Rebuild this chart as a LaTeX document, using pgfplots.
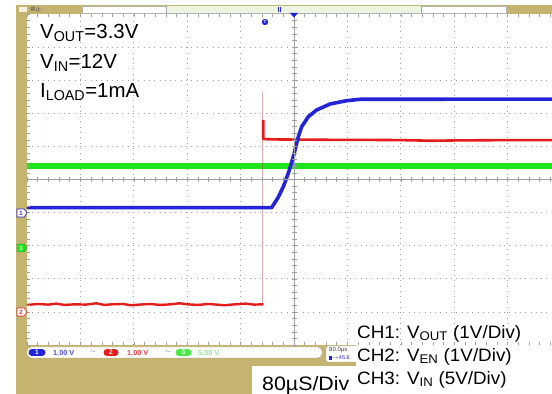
\documentclass[border=0pt]{standalone}
\usepackage{pgfplots}
\pgfplotsset{compat=1.18}
\usepackage{fontspec}
\setmainfont{Liberation Sans}
\newfontfamily\cjk{Noto Sans CJK SC}

\definecolor{bezel}{RGB}{197,180,112}
\definecolor{tblue}{RGB}{35,35,215}
\definecolor{tred}{RGB}{228,28,28}
\definecolor{tgreen}{RGB}{30,228,30}
\definecolor{gridc}{RGB}{160,160,160}
\definecolor{barbg}{RGB}{236,244,226}

% traces, in screen divisions (x: time, y: volts/div)
\pgfplotstableread{
x y
-5.2 -0.85
-0.418 -0.85
-0.30 -0.55
-0.200 -0.218
-0.107 0.187
-0.013 0.689
0.081 1.293
0.144 1.595
0.268 1.897
0.425 2.100
0.674 2.281
0.987 2.381
1.236 2.423
5.2 2.43
}\chone
\pgfplotstableread{
x y
-5.2 -3.77
-5.0 -3.79
-4.8 -3.76
-4.6 -3.78
-4.45 -3.75
-4.3 -3.79
-4.1 -3.77
-3.9 -3.78
-3.7 -3.74
-3.55 -3.79
-3.4 -3.77
-3.2 -3.76
-3.05 -3.80
-2.9 -3.78
-2.7 -3.76
-2.5 -3.79
-2.3 -3.77
-2.15 -3.74
-2.0 -3.77
-1.8 -3.79
-1.6 -3.76
-1.45 -3.78
-1.3 -3.80
-1.1 -3.77
-0.9 -3.75
-0.75 -3.78
-0.575 -3.77
}\chtwolow
\pgfplotstableread{
x y
-0.575 1.80
-0.575 1.22
-0.3 1.21
0.5 1.20
1.5 1.195
2.0 1.19
2.6 1.17
3.0 1.18
4.0 1.19
5.2 1.19
}\chtwohigh
\pgfplotstableread{
x y
-5.2 0.41
5.2 0.41
}\chthree

\begin{document}
\begin{tikzpicture}
\useasboundingbox (0,0) rectangle (552bp,394bp);
\clip (0,0) rectangle (552bp,394bp);
\begin{scope}[x=1bp,y=1bp]
\fill[white] (0,0) rectangle (552,394);
% instrument bezel
\fill[bezel] (16,0) rectangle (552,389);
% top status strip
\fill[white,draw=gray!60,line width=0.4] (82,381) rectangle (506,388);
\fill[barbg] (166,381.3) rectangle (421,387.7);
\draw[gray!70,line width=0.6] (166,381) -- (166,388);
\draw[gray!70,line width=0.6] (421,381) -- (421,388);
\node[anchor=west,inner sep=0,font=\cjk\fontsize{5.5}{6}\selectfont,text=black!70] at (30,384.5) {停止};
\fill[white!80!bezel] (19,382) rectangle (27,387);
% screen
\fill[white] (27,49) rectangle (561,380);
\end{scope}

\begin{axis}[at={(27bp,49bp)},anchor=south west,
  width=534bp,height=331bp,scale only axis,
  xmin=-5,xmax=5,ymin=-5,ymax=5,
  axis line style={draw=none},
  xtick={-4,...,4},ytick={-4,...,4},
  xticklabels={},yticklabels={},
  major tick length=0pt,
  grid=major,
  grid style={gridc,line width=0.8,dash pattern=on 0.9bp off 4.4bp},
  clip=true]
\addplot[tgreen,line width=6.6bp] table {\chthree};
\addplot[tred!60!gray,line width=0.6bp,opacity=0.45] coordinates {(-0.59,-3.77) (-0.59,2.65)};
\addplot[tred,line width=2.4bp,line join=round] table {\chtwolow};
\addplot[tred,line width=2.6bp,line join=round] table {\chtwohigh};
\addplot[tblue,line width=3.6bp,line join=round] table {\chone};
\end{axis}

\begin{scope}[x=1bp,y=1bp]
% centre graticule with minor ticks
\draw[gray!75,line width=0.5] (27,214.5) -- (561,214.5);
\draw[gray!75,line width=0.5] (294,49) -- (294,380);
\foreach \i in {-25,...,25}{
  \draw[gray!75,line width=0.5] ({294+10.68*\i},212) -- ({294+10.68*\i},217);
  \draw[gray!75,line width=0.5] ({294+10.68*\i},380) -- ({294+10.68*\i},377);
  \draw[gray!75,line width=0.5] ({294+10.68*\i},49) -- ({294+10.68*\i},52);
}
\foreach \i in {-25,...,25}{
  \draw[gray!75,line width=0.5] (291.5,{214.5+6.62*\i}) -- (296.5,{214.5+6.62*\i});
  \draw[gray!75,line width=0.5] (27,{214.5+6.62*\i}) -- (30,{214.5+6.62*\i});
}

% trigger position and level markers
\fill[tblue] (290,381) -- (298,381) -- (294,376.5) -- cycle;
\draw[tblue,line width=0.8] (278,382) -- (278,387) (280.5,382) -- (280.5,387);
\fill[tblue] (265,372) circle (3.2);
\node[text=white,font=\bfseries\fontsize{4.5}{5}\selectfont,inner sep=0] at (265,372) {T};

% channel ground markers
\filldraw[fill=white,draw=tblue,line width=0.6] (17,185) -- (24,185) -- (27,181) -- (24,177) -- (17,177) -- cycle;
\node[text=tblue,font=\bfseries\fontsize{6}{6}\selectfont,inner sep=0] at (21,181) {1};
\filldraw[fill=tgreen,draw=tgreen!70!black,line width=0.4] (17,150) -- (24,150) -- (27,146) -- (24,142) -- (17,142) -- cycle;
\node[text=white,font=\bfseries\fontsize{6}{6}\selectfont,inner sep=0] at (21,146) {3};
\filldraw[fill=white,draw=tred,line width=0.6] (17,86) -- (24,86) -- (27,82) -- (24,78) -- (17,78) -- cycle;
\node[text=tred,font=\bfseries\fontsize{6}{6}\selectfont,inner sep=0] at (21,82) {2};

% bottom channel status bar
\filldraw[fill=white,draw=gray!70,line width=0.5,rounded corners=4] (27,36) rectangle (322,47);
\fill[tblue] (32,38) rectangle (42,45);
\fill[tblue] (32,41.5) circle (3.5) (42,41.5) circle (3.5);
\node[text=white,font=\bfseries\fontsize{6.5}{7}\selectfont,inner sep=0] at (37,41.5) {1};
\node[anchor=west,text=tblue!80,font=\bfseries\fontsize{7.3}{8}\selectfont,inner sep=0] at (53,41.5) {1.00 V};
\node[text=tblue!70,font=\fontsize{7}{7}\selectfont,inner sep=0] at (93,41.5) {$\sim$};
\fill[tred] (107,38) rectangle (115,45);
\fill[tred] (107,41.5) circle (3.5) (115,41.5) circle (3.5);
\node[text=white,font=\bfseries\fontsize{6.5}{7}\selectfont,inner sep=0] at (111,41.5) {2};
\node[anchor=west,text=tred!85,font=\bfseries\fontsize{7.3}{8}\selectfont,inner sep=0] at (127,41.5) {1.00 V};
\node[text=tblue!70,font=\fontsize{7}{7}\selectfont,inner sep=0] at (168,41.5) {$\sim$};
\fill[tgreen!80] (179,38) rectangle (188,45);
\fill[tgreen!80] (179,41.5) circle (3.5) (188,41.5) circle (3.5);
\node[text=white,font=\bfseries\fontsize{6.5}{7}\selectfont,inner sep=0] at (183.5,41.5) {3};
\node[anchor=west,text=tgreen!55,font=\bfseries\fontsize{7.3}{8}\selectfont,inner sep=0] at (198,41.5) {5.00 V};

% timebase readout
\filldraw[fill=white,draw=gray!70,line width=0.5,rounded corners=2] (326,32) rectangle (360,48);
\node[anchor=west,text=black!75,font=\fontsize{6}{6}\selectfont,inner sep=0] at (329,43.5) {80.0µs};
\node[anchor=west,text=tblue,font=\fontsize{5.5}{6}\selectfont,inner sep=0] at (329,36) {\rule{3bp}{4bp}$\to$45.6};

% annotation panels
\fill[white] (252,0) rectangle (552,28);
\fill[white] (356,0) rectangle (552,49);

\node[anchor=base west,inner sep=0,font=\fontsize{20.5}{24}\selectfont] at (40,356) {V\textsubscript{OUT}=3.3V};
\node[anchor=base west,inner sep=0,font=\fontsize{20.5}{24}\selectfont] at (40,326) {V\textsubscript{IN}=12V};
\node[anchor=base west,inner sep=0,font=\fontsize{20.5}{24}\selectfont] at (40,297) {I\textsubscript{LOAD}=1mA};

\node[anchor=base west,inner sep=0,xscale=1.1,font=\fontsize{19.5}{22}\selectfont] at (262,4) {80µS/Div};
\node[anchor=base west,inner sep=0,xscale=1.05,font=\fontsize{18}{20}\selectfont] at (357,56) {CH1: V\textsubscript{OUT} (1V/Div)};
\node[anchor=base west,inner sep=0,xscale=1.05,font=\fontsize{18}{20}\selectfont] at (357,33) {CH2: V\textsubscript{EN} (1V/Div)};
\node[anchor=base west,inner sep=0,xscale=1.05,font=\fontsize{18}{20}\selectfont] at (357,10) {CH3: V\textsubscript{IN} (5V/Div)};
\end{scope}
\end{tikzpicture}
\end{document}
